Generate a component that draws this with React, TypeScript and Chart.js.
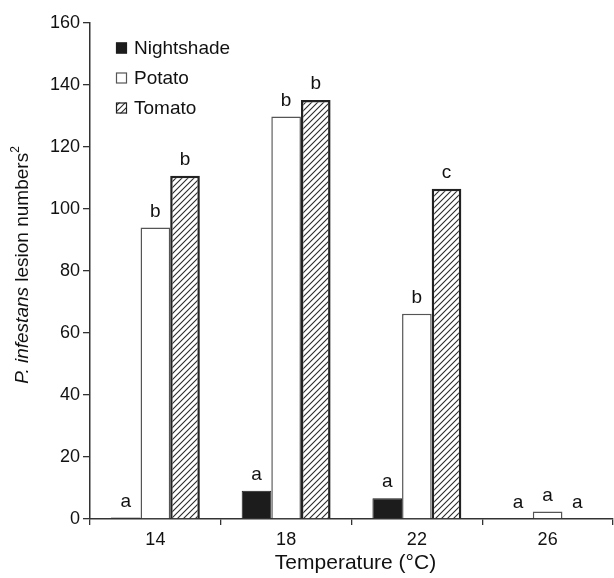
import React, { useEffect, useRef } from "react";
import { Chart, registerables } from "chart.js";

Chart.register(...registerables);

const categories = ["14", "18", "22", "26"];
const seriesNames = ["Nightshade", "Potato", "Tomato"];
const nightshade = [0.5, 9.1, 6.7, 0];
const potato = [94, 129.8, 66.2, 2.4];
const tomato = [110.7, 135.2, 106.5, 0];
const nightshadeLetters = ["a", "a", "a", "a"];
const potatoLetters = ["b", "b", "b", "a"];
const tomatoLetters = ["b", "b", "c", "a"];
const yMin = 0;
const yMax = 160;
const yStep = 20;
const xTitle = "Temperature (°C)";
const yTitleItalic = "P. infestans";
const yTitleRest = " lesion numbers";
const yTitleSup = "2";

const FONT = "'Liberation Sans', Arial, Helvetica, sans-serif";

function makeHatch(ctx: CanvasRenderingContext2D): CanvasPattern | string {
  const c = document.createElement("canvas");
  const s = 6;
  c.width = s;
  c.height = s;
  const g = c.getContext("2d");
  if (!g) return "#ffffff";
  g.fillStyle = "#ffffff";
  g.fillRect(0, 0, s, s);
  g.strokeStyle = "#2a2a2a";
  g.lineWidth = 1.1;
  g.beginPath();
  g.moveTo(0, s);
  g.lineTo(s, 0);
  g.moveTo(-1, 1);
  g.lineTo(1, -1);
  g.moveTo(s - 1, s + 1);
  g.lineTo(s + 1, s - 1);
  g.stroke();
  return ctx.createPattern(c, "repeat") || "#ffffff";
}

export default function App() {
  const ref = useRef<HTMLCanvasElement | null>(null);

  useEffect(() => {
    const canvas = ref.current;
    if (!canvas) return;
    const ctx = canvas.getContext("2d");
    if (!ctx) return;
    const hatch = makeHatch(ctx);
    const letters = [nightshadeLetters, potatoLetters, tomatoLetters];

    const lettersPlugin = {
      id: "letters",
      afterDatasetsDraw(chart: any) {
        const c = chart.ctx;
        c.save();
        c.font = `19px ${FONT}`;
        c.fillStyle = "#111";
        c.textAlign = "center";
        c.textBaseline = "middle";
        chart.data.datasets.forEach((_: any, i: number) => {
          const meta = chart.getDatasetMeta(i);
          meta.data.forEach((el: any, j: number) => {
            c.fillText(letters[i][j], el.x, el.y - 16);
          });
        });
        c.restore();
      },
    };

    const legendPlugin = {
      id: "customLegend",
      afterDraw(chart: any) {
        const c = chart.ctx;
        const area = chart.chartArea;
        c.save();
        c.font = `19px ${FONT}`;
        c.textBaseline = "middle";
        c.textAlign = "left";
        chart.data.datasets.forEach((ds: any, i: number) => {
          const cy = area.top + 25 + i * 30;
          const bx = area.left + 26;
          const size = 11;
          c.fillStyle = ds.backgroundColor;
          c.fillRect(bx, cy - size / 2, size, size);
          c.strokeStyle = ds.borderColor;
          c.lineWidth = 1.2;
          c.strokeRect(bx + 0.5, cy - size / 2 + 0.5, size - 1, size - 1);
          c.fillStyle = "#111";
          c.fillText(ds.label, bx + 18, cy + 1);
        });
        c.restore();
      },
    };

    const titlesPlugin = {
      id: "titles",
      afterDraw(chart: any) {
        const c = chart.ctx;
        const area = chart.chartArea;
        c.save();
        c.fillStyle = "#111";
        // x title
        c.font = `21px ${FONT}`;
        c.textAlign = "center";
        c.textBaseline = "middle";
        c.fillText(xTitle, (area.left + area.right) / 2 + 4, 563);
        // y title
        const fs = 19;
        const itFont = `italic ${fs}px ${FONT}`;
        const nFont = `${fs}px ${FONT}`;
        const sFont = `${Math.round(fs * 0.65)}px ${FONT}`;
        c.font = itFont;
        const w1 = c.measureText(yTitleItalic).width;
        c.font = nFont;
        const w2 = c.measureText(yTitleRest).width;
        c.font = sFont;
        const w3 = c.measureText(yTitleSup).width;
        const total = w1 + w2 + w3;
        c.translate(23, (area.top + area.bottom) / 2 - 6);
        c.rotate(-Math.PI / 2);
        c.textAlign = "left";
        c.textBaseline = "middle";
        let x = -total / 2;
        c.font = itFont;
        c.fillText(yTitleItalic, x, 0);
        x += w1;
        c.font = nFont;
        c.fillText(yTitleRest, x, 0);
        x += w2;
        c.font = sFont;
        c.fillText(yTitleSup, x, -7);
        c.restore();
      },
    };

    const chart = new Chart(ctx, {
      type: "bar",
      data: {
        labels: categories,
        datasets: [
          {
            label: seriesNames[0],
            data: nightshade,
            backgroundColor: "#1c1c1c",
            borderColor: "#1c1c1c",
            borderWidth: 1,
          },
          {
            label: seriesNames[1],
            data: potato,
            backgroundColor: "#ffffff",
            borderColor: "#555555",
            borderWidth: 1.5,
          },
          {
            label: seriesNames[2],
            data: tomato,
            backgroundColor: hatch as any,
            borderColor: "#222222",
            borderWidth: 2.5,
          },
        ],
      },
      options: {
        animation: false,
        responsive: false,
        devicePixelRatio: 1,
        layout: { padding: { top: 23, right: 1, left: 0, bottom: 0 } },
        plugins: {
          legend: { display: false },
          tooltip: { enabled: false },
        },
        datasets: {
          bar: {
            barPercentage: 1,
            categoryPercentage: 0.68,
            borderSkipped: "start",
          },
        },
        scales: {
          x: {
            type: "category",
            grid: {
              offset: true,
              drawOnChartArea: false,
              drawTicks: true,
              tickLength: 6,
              color: "#333",
              lineWidth: 1.3,
            },
            border: { display: true, color: "#333", width: 1.5 },
            ticks: {
              color: "#111",
              font: { family: FONT, size: 18 },
              padding: 4,
              maxRotation: 0,
            },
            afterFit(scale: any) {
              scale.height = 59;
            },
          },
          y: {
            min: yMin,
            max: yMax,
            grid: {
              drawOnChartArea: false,
              drawTicks: true,
              tickLength: 7,
              color: "#333",
              lineWidth: 1.3,
            },
            border: { display: true, color: "#333", width: 1.5 },
            ticks: {
              stepSize: yStep,
              color: "#111",
              font: { family: FONT, size: 18 },
              padding: 3,
            },
            afterFit(scale: any) {
              scale.width = 90;
            },
          },
        },
      },
      plugins: [lettersPlugin, legendPlugin, titlesPlugin],
    });

    return () => {
      chart.destroy();
    };
  }, []);

  return (
    <div style={{ position: "fixed", left: 0, top: 0, width: 614, height: 578, background: "#fff" }}>
      <canvas ref={ref} width={614} height={578} style={{ display: "block", width: 614, height: 578 }} />
    </div>
  );
}
